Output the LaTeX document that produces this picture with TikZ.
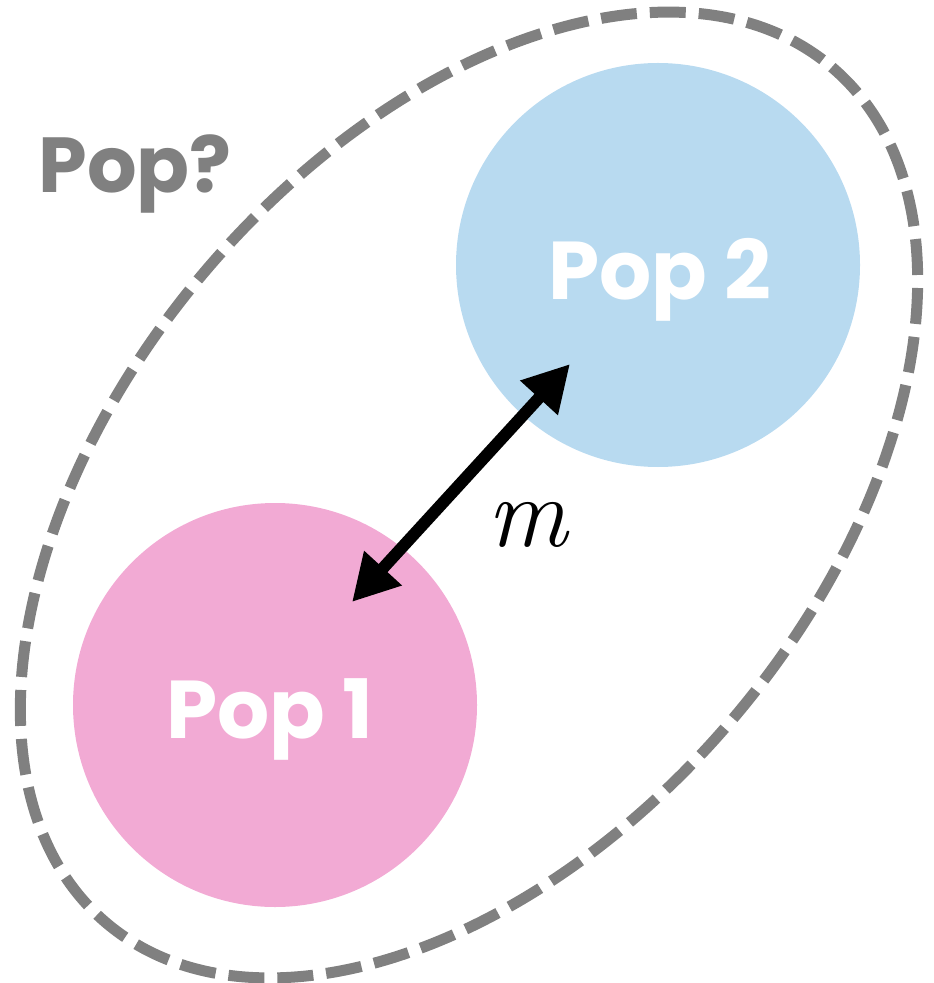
\documentclass[tikz,border=0pt]{standalone}
\usepackage{fontspec}
\newfontfamily\popfont{Poppins}
\usetikzlibrary{arrows.meta}
\definecolor{popblue}{RGB}{184,218,240}
\definecolor{poppink}{RGB}{242,170,212}
\definecolor{popgray}{RGB}{128,128,128}
\tikzset{
  popcircle/.style={circle, minimum size=202pt, inner sep=0pt, draw=none},
  poplabel/.style={font=\popfont\bfseries\fontsize{41}{41}\selectfont, text=white, anchor=base},
  migr/.style={line width=6pt, {Triangle[length=23pt,width=24pt]}-{Triangle[length=23pt,width=24pt]}},
}
\begin{document}
\begin{tikzpicture}[x=0.5pt,y=-0.5pt]
\useasboundingbox (0,0) rectangle (933,983);
% enclosing dashed ellipse
\draw[popgray, line width=5.5pt, dash pattern=on 18pt off 6.5pt]
  (469,495) ellipse[x radius=561, y radius=346, rotate=49.7];
% populations
\node[popcircle, fill=popblue] (p2) at (658,265) {};
\node[popcircle, fill=poppink] (p1) at (275,705) {};
\node[poplabel] (l2) at (660,300) {Pop 2};
\node[poplabel] (l1) at (270,738) {Pop 1};
\node[font=\popfont\bfseries\fontsize{39}{39}\selectfont, text=popgray, anchor=base] (q) at (135,193) {Pop?};
% migration arrow
\coordinate (a1) at (352,602);
\coordinate (a2) at (570,364);
\draw[migr] (a1) -- (a2);
\node[font=\fontsize{50}{50}\selectfont\itshape, anchor=base] (m) at (527,546) {m};
\end{tikzpicture}
\end{document}
